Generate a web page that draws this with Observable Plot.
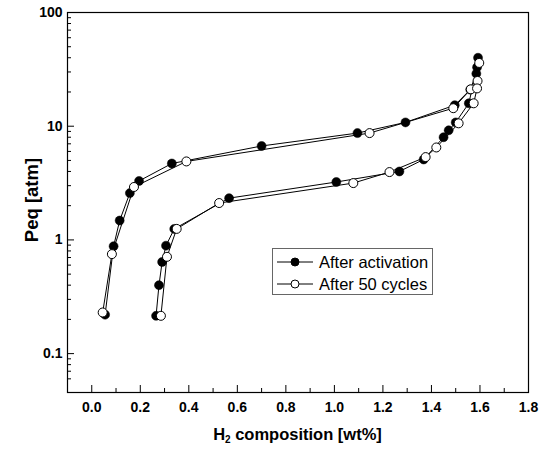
<!DOCTYPE html>
<html><head><meta charset="utf-8">
<script src="https://cdn.jsdelivr.net/npm/d3@7"></script>
<script src="https://cdn.jsdelivr.net/npm/@observablehq/plot@0.6"></script>
<style>
body{margin:0;background:#fff;font-family:"Liberation Sans",Arial,sans-serif;}
#wrap{position:relative;width:544px;height:455px;overflow:hidden;}
#xtitle{position:absolute;left:0;width:595px;top:425px;text-align:center;font-weight:bold;font-size:16.5px;}
#xtitle sub{font-size:10px;vertical-align:-3px;}
#ytitle{position:absolute;left:32px;top:200px;transform:translate(-50%,-50%) rotate(-90deg);font-weight:bold;font-size:18.5px;white-space:nowrap;}
#legend{position:absolute;left:272px;top:248px;width:161px;height:47px;border:1px solid #666;box-sizing:border-box;}
.row{position:absolute;left:0;height:22px;display:flex;align-items:center;font-size:16.5px;white-space:nowrap;}
.row svg{margin-left:4px;margin-right:6px;}
</style></head><body><div id="wrap"></div>
<script>
// After activation (filled): absorption branch up, then desorption branch down
const activX = [0.055,0.09,0.115,0.157,0.195,0.33,0.70,1.095,1.293,1.496,1.56,1.585,1.592,1.588,1.554,1.50,1.471,1.45,1.368,1.268,1.008,0.566,0.34,0.306,0.29,0.277,0.265];
const activY = [0.22,0.88,1.48,2.58,3.3,4.7,6.7,8.7,10.8,15.3,21,29,40,33,15.9,10.8,9.2,8.0,5.1,4.0,3.23,2.33,1.25,0.89,0.64,0.40,0.215];
// After 50 cycles (open)
const cycX = [0.045,0.083,0.174,0.39,1.145,1.49,1.562,1.59,1.597,1.588,1.574,1.512,1.42,1.376,1.227,1.078,0.525,0.35,0.31,0.285];
const cycY = [0.23,0.75,2.92,4.9,8.7,14.4,21.1,25,36,21.5,15.9,10.6,6.5,5.35,3.95,3.16,2.11,1.25,0.71,0.215];

const xTicks = [0,0.2,0.4,0.6,0.8,1.0,1.2,1.4,1.6,1.8];
const xMinor = [0.1,0.3,0.5,0.7,0.9,1.1,1.3,1.5,1.7];
const yTicks = [0.1,1,10,100];
const yMinor = [0.06,0.07,0.08,0.09,0.2,0.3,0.4,0.5,0.6,0.7,0.8,0.9,2,3,4,5,6,7,8,9,20,30,40,50,60,70,80,90];

const activ = activX.map((x,i)=>({x, y: activY[i]}));
const cyc = cycX.map((x,i)=>({x, y: cycY[i]}));

const W=544,H=455,mL=67,mR=16,mT=12,mB=63;
const pW=W-mL-mR, pH=H-mT-mB;

const chart = Plot.plot({
  width:W, height:H, marginLeft:mL, marginRight:mR, marginTop:mT, marginBottom:mB,
  style:{fontFamily:"'Liberation Sans', Arial, sans-serif", fontSize:"14px", fontWeight:"bold", color:"black", background:"white"},
  x:{domain:[-0.1,1.8]},
  y:{type:"log", domain:[0.0455,100]},
  marks:[
    Plot.ruleX(xTicks,{x:d=>d, insetTop:pH-7, stroke:"black"}),
    Plot.ruleX(xMinor,{x:d=>d, insetTop:pH-4, stroke:"black"}),
    Plot.ruleY(yTicks,{y:d=>d, insetRight:pW-7, stroke:"black"}),
    Plot.ruleY(yMinor,{y:d=>d, insetRight:pW-4, stroke:"black"}),
    Plot.axisX(xTicks,{tickSize:0, tickPadding:10, tickFormat:d=>d.toFixed(1), label:null}),
    Plot.axisY(yTicks,{tickSize:0, tickPadding:5, tickFormat:d=>String(d), label:null}),
    Plot.line(activ,{x:"x", y:"y", stroke:"black", strokeWidth:1}),
    Plot.line(cyc,{x:"x", y:"y", stroke:"black", strokeWidth:1}),
    Plot.dot(activ,{x:"x", y:"y", r:4.5, fill:"black", stroke:"black", strokeWidth:0.5}),
    Plot.dot(cyc,{x:"x", y:"y", r:4.5, fill:"white", stroke:"black", strokeWidth:1}),
    Plot.frame({stroke:"black", strokeWidth:1.2})
  ]
});
const wrap = document.getElementById("wrap");
wrap.appendChild(chart);

const xt = document.createElement("div"); xt.id="xtitle";
xt.innerHTML = "H<sub>2</sub> composition [wt%]";
wrap.appendChild(xt);
const yt = document.createElement("div"); yt.id="ytitle"; yt.textContent="Peq [atm]";
wrap.appendChild(yt);

const legendItems = [{label:"After activation", fill:"black"},{label:"After 50 cycles", fill:"white"}];
const lg = document.createElement("div"); lg.id="legend";
legendItems.forEach((it,i)=>{
  const row = document.createElement("div"); row.className="row"; row.style.top=(2+i*22)+"px";
  row.innerHTML = `<svg width="36" height="12"><line x1="0" x2="36" y1="6" y2="6" stroke="black" stroke-width="1"/><circle cx="18" cy="6" r="4" fill="${it.fill}" stroke="black" stroke-width="1"/></svg><span>${it.label}</span>`;
  lg.appendChild(row);
});
wrap.appendChild(lg);
</script></body></html>
